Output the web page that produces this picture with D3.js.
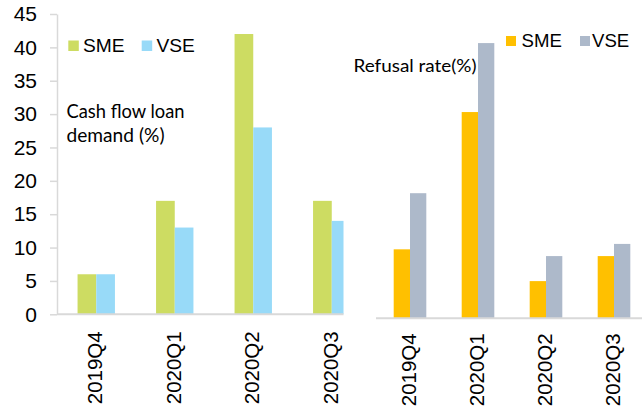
<!DOCTYPE html>
<html>
<head>
<meta charset="utf-8">
<script src="https://cdn.jsdelivr.net/npm/d3@7/dist/d3.min.js"></script>
<style>
  html, body { margin: 0; padding: 0; background: #fff; }
  svg { display: block; }
</style>
</head>
<body>
<svg id="chart" width="642" height="411"></svg>
<script>
// ---- data ----
const quarters = ["2019Q4", "2020Q1", "2020Q2", "2020Q3"];
const seriesNames = ["SME", "VSE"];
const demandSME = [6, 17, 42, 17];
const demandVSE = [6, 13, 28, 14];
const refusalSME = [10.2, 30.5, 5.5, 9.2];
const refusalVSE = [18.5, 40.7, 9.2, 11.0];
const yTicks = [0, 5, 10, 15, 20, 25, 30, 35, 40, 45];

// ---- styles ----
const colorsLeft = { SME: "#cddc62", VSE: "#98daf8" };
const colorsRight = { SME: "#ffc000", VSE: "#adb9ca" };
const axisColor = "#d9d9d9";
const arial = "'Liberation Sans', Arial, sans-serif";
const calibri = "Lato, 'Open Sans', sans-serif";

const svg = d3.select("#chart");

// ================= LEFT PANEL =================
const L = { x0: 57, x1: 371, clipX: 343.5, yBase: 314.3, yTop: 14 };
const xL = d3.scaleBand().domain(quarters).range([L.x0, L.x1]).padding(0);
const subL = d3.scaleBand().domain(seriesNames).range([0, xL.bandwidth()]).paddingInner(0).paddingOuter(1.1);
const yL = d3.scaleLinear().domain([0, 45]).range([L.yBase, L.yTop]);

svg.append("clipPath").attr("id", "clipL")
  .append("rect").attr("x", L.x0).attr("y", 0).attr("width", L.clipX - L.x0).attr("height", 411);

const dataL = quarters.map((q, i) => ({ q, SME: demandSME[i], VSE: demandVSE[i] }));
const gBarsL = svg.append("g").attr("clip-path", "url(#clipL)");
gBarsL.selectAll("g.grp").data(dataL).join("g")
  .attr("transform", d => `translate(${xL(d.q)},0)`)
  .selectAll("rect").data(d => seriesNames.map(s => ({ s, v: d[s] }))).join("rect")
  .attr("x", d => subL(d.s))
  .attr("width", subL.bandwidth())
  .attr("y", d => yL(d.v))
  .attr("height", d => yL(0) - yL(d.v))
  .attr("fill", d => colorsLeft[d.s]);

// y axis
const yAxisL = svg.append("g").attr("transform", `translate(${L.x0},0)`)
  .call(d3.axisLeft(yL).tickValues(yTicks).tickSize(7).tickSizeOuter(0).tickPadding(13));
yAxisL.select(".domain").attr("stroke", axisColor).attr("stroke-width", 1.5);
yAxisL.selectAll(".tick line").attr("stroke", axisColor).attr("stroke-width", 1.5);
yAxisL.selectAll(".tick text").attr("font-family", arial).attr("font-size", 21).attr("fill", "#000");

// x axis
svg.append("line").attr("x1", L.x0).attr("x2", L.clipX).attr("y1", L.yBase).attr("y2", L.yBase)
  .attr("stroke", axisColor).attr("stroke-width", 2);
const xAxisL = svg.append("g").attr("transform", `translate(0,${L.yBase})`)
  .call(d3.axisBottom(xL).tickSize(0));
xAxisL.select(".domain").remove();
xAxisL.selectAll(".tick text")
  .attr("font-family", arial).attr("font-size", 20.5).attr("fill", "#000")
  .attr("text-anchor", "end")
  .attr("transform", "translate(-1,17) rotate(-90)")
  .attr("x", 0).attr("y", 0).attr("dy", "0.35em");

// legend left
const legL = [{ s: "SME", x: 68.3, tx: 83 }, { s: "VSE", x: 141.7, tx: 156.5 }];
legL.forEach(d => {
  svg.append("rect").attr("x", d.x).attr("y", 40.5).attr("width", 10.5).attr("height", 10.5).attr("fill", colorsLeft[d.s]);
  svg.append("text").attr("x", d.tx).attr("y", 52.3).attr("font-family", arial).attr("font-size", 19.2).attr("fill", "#000").text(d.s);
});

// annotation left
svg.append("text").attr("x", 66.5).attr("y", 117.5).attr("font-family", calibri).attr("font-size", 19.5)
  .attr("textLength", 118).attr("lengthAdjust", "spacingAndGlyphs").attr("fill", "#000").text("Cash flow loan");
svg.append("text").attr("x", 66.5).attr("y", 142).attr("font-family", calibri).attr("font-size", 19.5)
  .attr("textLength", 98).attr("lengthAdjust", "spacingAndGlyphs").attr("fill", "#000").text("demand (%)");

// ================= RIGHT PANEL =================
const R = { x0: 376, x1: 648, yBase: 318.3, yTop: 14 };
const xR = d3.scaleBand().domain(quarters).range([R.x0, R.x1]).padding(0);
const subR = d3.scaleBand().domain(seriesNames).range([0, xR.bandwidth()]).paddingInner(0).paddingOuter(1.085);
const yR = d3.scaleLinear().domain([0, 45]).range([R.yBase, R.yTop]);

const dataR = quarters.map((q, i) => ({ q, SME: refusalSME[i], VSE: refusalVSE[i] }));
svg.append("g").selectAll("g.grp").data(dataR).join("g")
  .attr("transform", d => `translate(${xR(d.q)},0)`)
  .selectAll("rect").data(d => seriesNames.map(s => ({ s, v: d[s] }))).join("rect")
  .attr("x", d => subR(d.s))
  .attr("width", subR.bandwidth())
  .attr("y", d => yR(d.v))
  .attr("height", d => yR(0) - yR(d.v))
  .attr("fill", d => colorsRight[d.s]);

svg.append("line").attr("x1", R.x0).attr("x2", 642).attr("y1", R.yBase).attr("y2", R.yBase)
  .attr("stroke", axisColor).attr("stroke-width", 2);
const xAxisR = svg.append("g").attr("transform", `translate(0,${R.yBase})`)
  .call(d3.axisBottom(xR).tickSize(0));
xAxisR.select(".domain").remove();
xAxisR.selectAll(".tick text")
  .attr("font-family", arial).attr("font-size", 20.5).attr("fill", "#000")
  .attr("text-anchor", "end")
  .attr("transform", "translate(-1,15) rotate(-90)")
  .attr("x", 0).attr("y", 0).attr("dy", "0.35em");

// legend right
const legR = [{ s: "SME", x: 506, tx: 521.5 }, { s: "VSE", x: 580, tx: 592 }];
legR.forEach(d => {
  svg.append("rect").attr("x", d.x).attr("y", 36).attr("width", 10).attr("height", 10).attr("fill", colorsRight[d.s]);
  svg.append("text").attr("x", d.tx).attr("y", 46.7).attr("font-family", arial).attr("font-size", 18.6).attr("fill", "#000").text(d.s);
});

// annotation right
svg.append("text").attr("x", 353.5).attr("y", 72).attr("font-family", calibri).attr("font-size", 17.5)
  .attr("textLength", 123).attr("lengthAdjust", "spacingAndGlyphs").attr("fill", "#000").text("Refusal rate(%)");
</script>
</body>
</html>
